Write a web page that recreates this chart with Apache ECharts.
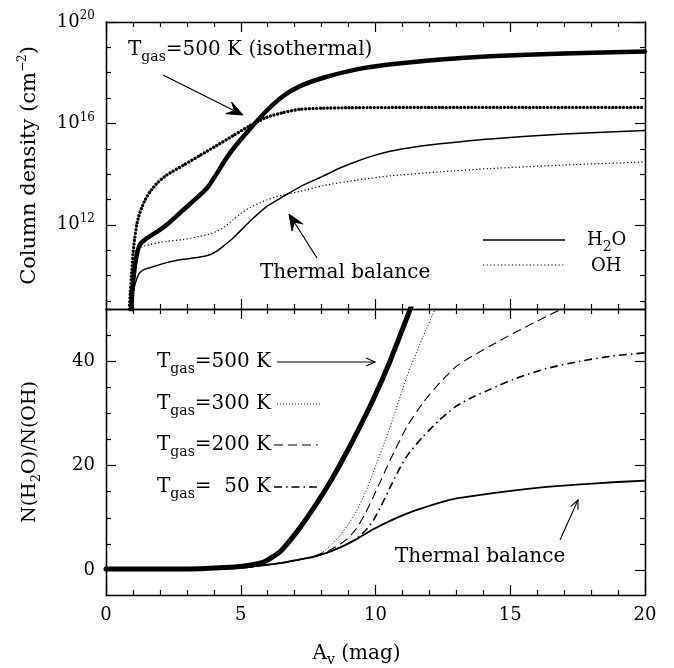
<!DOCTYPE html>
<html>
<head>
<meta charset="utf-8">
<script src="https://cdn.jsdelivr.net/npm/echarts@6/dist/echarts.min.js"></script>
<style>
  html, body { margin: 0; padding: 0; background: #fff; }
  #main { width: 674px; height: 668px; }
</style>
</head>
<body>
<div id="main"></div>
<script>
// ---- top panel: log10 column density (cm^-2) vs Av (mag) ----
var isoH2O = [[0.93, 8.4], [0.97, 9.3], [1.02, 9.9], [1.08, 10.44], [1.17, 10.95], [1.26, 11.22], [1.45, 11.42],
  [1.63, 11.55], [2.0, 11.8], [2.25, 12.0], [2.87, 12.59], [3.49, 13.18], [3.8, 13.52], [4.11, 14.02], [4.4, 14.52],
  [4.72, 15.0], [5.34, 15.78], [5.96, 16.5], [6.58, 17.08], [7.2, 17.47], [8.07, 17.8], [9.3, 18.13], [10.5, 18.32],
  [12.4, 18.52], [14.25, 18.65], [17, 18.76], [20, 18.84]];
var isoOH = [[0.85, 8.4], [0.9, 9.3], [0.95, 10.1], [1.01, 10.96], [1.07, 11.5], [1.14, 12.0], [1.22, 12.35],
  [1.32, 12.66], [1.45, 12.98], [1.63, 13.3], [1.9, 13.65], [2.25, 13.96], [2.87, 14.35], [3.49, 14.74], [4.11, 15.13],
  [4.72, 15.52], [5.34, 15.91], [5.96, 16.24], [6.58, 16.43], [7.2, 16.56], [8.0, 16.6], [9.0, 16.62], [12, 16.63],
  [16, 16.63], [20, 16.63]];
var tbH2O = [[0.93, 8.4], [0.98, 9.2], [1.03, 9.45], [1.08, 9.66], [1.17, 9.95], [1.26, 10.12], [1.45, 10.25],
  [1.63, 10.31], [2.25, 10.51], [2.87, 10.64], [3.49, 10.73], [3.85, 10.82], [4.11, 10.96], [4.4, 11.2], [4.72, 11.48],
  [5.34, 12.14], [5.96, 12.72], [6.58, 13.12], [7.2, 13.5], [8.07, 13.93], [8.7, 14.25], [9.3, 14.5], [9.9, 14.72],
  [10.54, 14.9], [11.5, 15.08], [12.4, 15.2], [14.25, 15.39], [17, 15.58], [20, 15.72]];
var tbOH = [[0.92, 8.4], [0.97, 9.6], [1.02, 10.4], [1.08, 10.85], [1.14, 11.05], [1.3, 11.13], [1.63, 11.22],
  [2.25, 11.35], [2.87, 11.42], [3.49, 11.55], [3.8, 11.62], [4.11, 11.74], [4.4, 11.92], [4.72, 12.2], [5.0, 12.45],
  [5.34, 12.68], [5.96, 12.98], [6.58, 13.18], [7.2, 13.32], [8.07, 13.55], [9.3, 13.76], [10.54, 13.93], [12.4, 14.09],
  [14.25, 14.22], [17, 14.36], [20, 14.48]];

// ---- bottom panel: N(H2O)/N(OH) vs Av ----
var ratio500 = [[0, 0.2], [2, 0.2], [3.5, 0.25], [4.6, 0.5], [5.2, 0.8], [5.84, 1.5], [6.46, 3.5], [7.08, 7.3],
  [7.69, 11.75], [8.31, 16.8], [8.8, 21.3], [9.3, 26.2], [9.92, 32.7], [10.54, 40.0], [11.03, 46.5], [11.4, 51.5]];
var ratio300 = [[0, 0.1], [3, 0.15], [5, 0.4], [5.84, 0.9], [6.46, 1.3], [7.08, 1.9], [7.69, 2.6], [8.0, 3.3],
  [8.31, 4.5], [8.68, 6.6], [9.0, 8.8], [9.3, 11.3], [9.62, 14.8], [9.92, 18.7], [10.54, 27.4], [11.16, 37.0],
  [11.77, 44.8], [12.3, 51]];
var ratio200 = [[0, 0.1], [3, 0.15], [5, 0.4], [5.84, 0.9], [6.46, 1.3], [7.08, 1.9], [7.69, 2.6], [8.31, 3.8],
  [8.68, 4.9], [9.0, 6.2], [9.3, 8.0], [9.62, 10.8], [9.92, 14.0], [10.54, 21.0], [11.16, 27.4], [11.77, 32.1],
  [12.39, 35.9], [13.0, 39.0], [13.6, 41.0], [14.25, 42.9], [15.1, 45.3], [16.35, 48.6], [17.0, 50.2]];
var ratio50 = [[0, 0.1], [3, 0.15], [5, 0.4], [5.84, 0.9], [6.46, 1.3], [7.08, 1.9], [7.69, 2.5], [8.31, 3.5],
  [8.68, 4.3], [9.0, 5.1], [9.3, 6.0], [9.62, 7.5], [9.92, 9.5], [10.2, 12.2], [10.54, 15.8], [10.85, 19.0],
  [11.16, 21.8], [11.77, 25.6], [12.39, 28.8], [13.0, 31.4], [13.64, 33.2], [14.25, 34.6], [15.1, 36.5],
  [16.35, 38.6], [17.6, 40.0], [18.8, 41.0], [20, 41.6]];
var ratioTB = [[0, 0.1], [3, 0.15], [5, 0.4], [5.84, 0.9], [6.46, 1.3], [7.08, 1.9], [7.69, 2.5], [8.31, 3.5],
  [8.68, 4.3], [9.0, 5.1], [9.3, 5.9], [9.62, 6.9], [9.92, 7.8], [10.54, 9.4], [11.16, 10.8], [11.77, 11.9],
  [12.39, 12.9], [13.0, 13.7], [13.9, 14.4], [15.1, 15.2], [16.35, 15.9], [17.6, 16.4], [18.8, 16.8], [20, 17.1]];

// ticks
var topMajor = [12, 16, 20];
var topMinor = [9, 10, 11, 13, 14, 15, 17, 18, 19];
var botMajor = [0, 20, 40];
var botMinor = [5, 10, 15, 25, 30, 35, 45, 50];

var FONT = 'DejaVu Serif';
var richSub = { fontSize: 13, fontFamily: FONT, verticalAlign: 'bottom', lineHeight: 9 };
var richSup = { fontSize: 12, fontFamily: FONT, verticalAlign: 'top', lineHeight: 9 };
var richSubL = { fontSize: 14, fontFamily: FONT, verticalAlign: 'bottom', lineHeight: 10 };

var chart = echarts.init(document.getElementById('main'));

var LINE = { show: true, onZero: false, lineStyle: { color: '#000', width: 1.3 } };

function xAx(grid, pos, labels) {
  return {
    type: 'value', gridIndex: grid, position: pos, min: 0, max: 20, interval: 5,
    axisLine: LINE,
    axisTick: { show: true, inside: true, length: 10, lineStyle: { color: '#000', width: 1.2 } },
    minorTick: { show: true, splitNumber: 5, length: 5, lineStyle: { color: '#000', width: 1.2 } },
    splitLine: { show: false },
    axisLabel: labels ? { show: true, color: '#000', fontFamily: FONT, fontSize: 18, margin: 11 } : { show: false },
    name: labels ? 'A{sub|v} (mag)' : '',
    nameLocation: 'middle', nameGap: 46,
    nameTextStyle: { color: '#000', fontFamily: FONT, fontSize: 20, lineHeight: 26, padding: [0, 38, 0, 0],
      rich: { sub: richSubL } }
  };
}

function yAx(grid, pos, min, max, ticks, len, labelVals, fmt, name, nameSize) {
  return {
    type: 'value', gridIndex: grid, position: pos, min: min, max: max,
    axisLine: LINE,
    axisTick: { show: true, inside: true, length: len, customValues: ticks, lineStyle: { color: '#000', width: 1.2 } },
    splitLine: { show: false },
    axisLabel: labelVals ? {
      show: true, customValues: labelVals, formatter: fmt, color: '#000', fontFamily: FONT, fontSize: 18,
      margin: 11, lineHeight: 24, rich: { sup: richSup }
    } : { show: false },
    name: name || '',
    nameLocation: 'middle', nameRotate: 90, nameGap: 63,
    nameTextStyle: { color: '#000', fontFamily: FONT, fontSize: nameSize || 18, lineHeight: 26,
      rich: { sup: richSup, sub: richSub } }
  };
}

var TOPMIN = 8.68, TOPMAX = 20, BOTMIN = -4.8, BOTMAX = 50;

function ln(name, data, xi, yi, style) {
  return {
    name: name, type: 'line', xAxisIndex: xi, yAxisIndex: yi, data: data,
    showSymbol: false, symbol: 'none', smooth: 0.2, clip: true, animation: false,
    lineStyle: Object.assign({ color: '#000', cap: 'round', join: 'round' }, style)
  };
}

// annotation helpers
function arrow(x1, y1, x2, y2, L, W, filled, lw) {
  var dx = x2 - x1, dy = y2 - y1, d = Math.sqrt(dx * dx + dy * dy);
  var ux = dx / d, uy = dy / d, nx = -uy, ny = ux;
  var bx = x2 - L * ux, by = y2 - L * uy;
  var out = [{ type: 'line', shape: { x1: x1, y1: y1, x2: x2 - (filled ? L * 0.5 * ux : 0), y2: y2 - (filled ? L * 0.5 * uy : 0) },
    style: { stroke: '#000', lineWidth: lw } }];
  if (filled) {
    out.push({ type: 'polygon', shape: { points: [[x2, y2], [bx + W * nx, by + W * ny], [x2 - 0.6 * L * ux, y2 - 0.6 * L * uy], [bx - W * nx, by - W * ny]] },
      style: { fill: '#000', stroke: '#000', lineWidth: 1 } });
  } else {
    out.push({ type: 'polyline', shape: { points: [[bx + W * nx, by + W * ny], [x2, y2], [bx - W * nx, by - W * ny]] },
      style: { stroke: '#000', lineWidth: lw, fill: null } });
  }
  return out;
}
function txt(x, y, s, size) {
  return { type: 'text', x: x, y: y, style: { text: s, fill: '#000', fontFamily: FONT, fontSize: size || 20, lineHeight: 28,
    align: 'left', verticalAlign: 'middle', rich: { sub: richSubL, sup: richSup } } };
}
function seg(x1, y1, x2, y2, lw, dash) {
  return { type: 'line', shape: { x1: x1, y1: y1, x2: x2, y2: y2 }, style: { stroke: '#000', lineWidth: lw, lineDash: dash || null } };
}

var graphics = [].concat(
  [txt(128, 50, 'T{sub|gas}=500 K (isothermal)')],
  arrow(163, 75, 243, 115, 16, 6.5, true, 1.2),
  [txt(260, 273, 'Thermal balance')],
  arrow(317, 258, 289, 214, 16, 6.5, true, 1.2),
  [seg(483, 240, 565, 240, 1.5), txt(587, 240, 'H{sub|2}O', 18),
   seg(483, 265, 565, 265, 1.2, [1.2, 2.4]), txt(591, 266, 'OH', 18)],
  [txt(157, 362, 'T{sub|gas}=500 K')],
  arrow(277, 362, 375, 362, 9, 4, false, 1.1),
  [txt(157, 404, 'T{sub|gas}=300 K'), seg(277, 404, 320, 404, 1, [1, 2]),
   txt(157, 445, 'T{sub|gas}=200 K'), seg(274, 445, 318, 445, 1.1, [9, 5]),
   txt(157, 487, 'T{sub|gas}=  50 K'), seg(274, 487, 318, 487, 1.6, [8, 4, 1.5, 4]),
   txt(395, 557, 'Thermal balance')],
  arrow(560, 540, 578, 500, 9, 4, false, 1.1)
);

var option = {
  backgroundColor: '#fff',
  animation: false,
  grid: [
    { left: 106, top: 22, width: 539, height: 287 },
    { left: 106, top: 309, width: 539, height: 288 }
  ],
  xAxis: [xAx(0, 'bottom', false), xAx(0, 'top', false), xAx(1, 'bottom', true), xAx(1, 'top', false)],
  yAxis: [
    yAx(0, 'left', TOPMIN, TOPMAX, topMajor, 10, topMajor, function (v) { return '10{sup|' + v + '}'; },
      'Column density (cm{sup|\u22122})', 21),
    yAx(0, 'left', TOPMIN, TOPMAX, topMinor, 5),
    yAx(0, 'right', TOPMIN, TOPMAX, topMajor, 10),
    yAx(0, 'right', TOPMIN, TOPMAX, topMinor, 5),
    yAx(1, 'left', BOTMIN, BOTMAX, botMajor, 10, botMajor, function (v) { return String(v); }, 'N(H{sub|2}O)/N(OH)', 19),
    yAx(1, 'left', BOTMIN, BOTMAX, botMinor, 5),
    yAx(1, 'right', BOTMIN, BOTMAX, botMajor, 10),
    yAx(1, 'right', BOTMIN, BOTMAX, botMinor, 5)
  ],
  series: [
    ln('iso H2O', isoH2O, 0, 0, { width: 4.5 }),
    ln('iso OH', isoOH, 0, 0, { width: 3.3, type: [0.01, 3.6] }),
    ln('TB H2O', tbH2O, 0, 0, { width: 1.5 }),
    ln('TB OH', tbOH, 0, 0, { width: 1.2, type: [1.2, 2.4], cap: 'butt' }),
    ln('500 K', ratio500, 2, 4, { width: 5 }),
    ln('300 K', ratio300, 2, 4, { width: 1, type: [1, 2], cap: 'butt' }),
    ln('200 K', ratio200, 2, 4, { width: 1.1, type: [9, 5], cap: 'butt' }),
    ln('50 K', ratio50, 2, 4, { width: 1.6, type: [8, 4, 1.5, 4], cap: 'butt' }),
    ln('TB ratio', ratioTB, 2, 4, { width: 1.8 })
  ],
  graphic: graphics
};

chart.setOption(option);
window.addEventListener('resize', chart.resize);
</script>
</body>
</html>
